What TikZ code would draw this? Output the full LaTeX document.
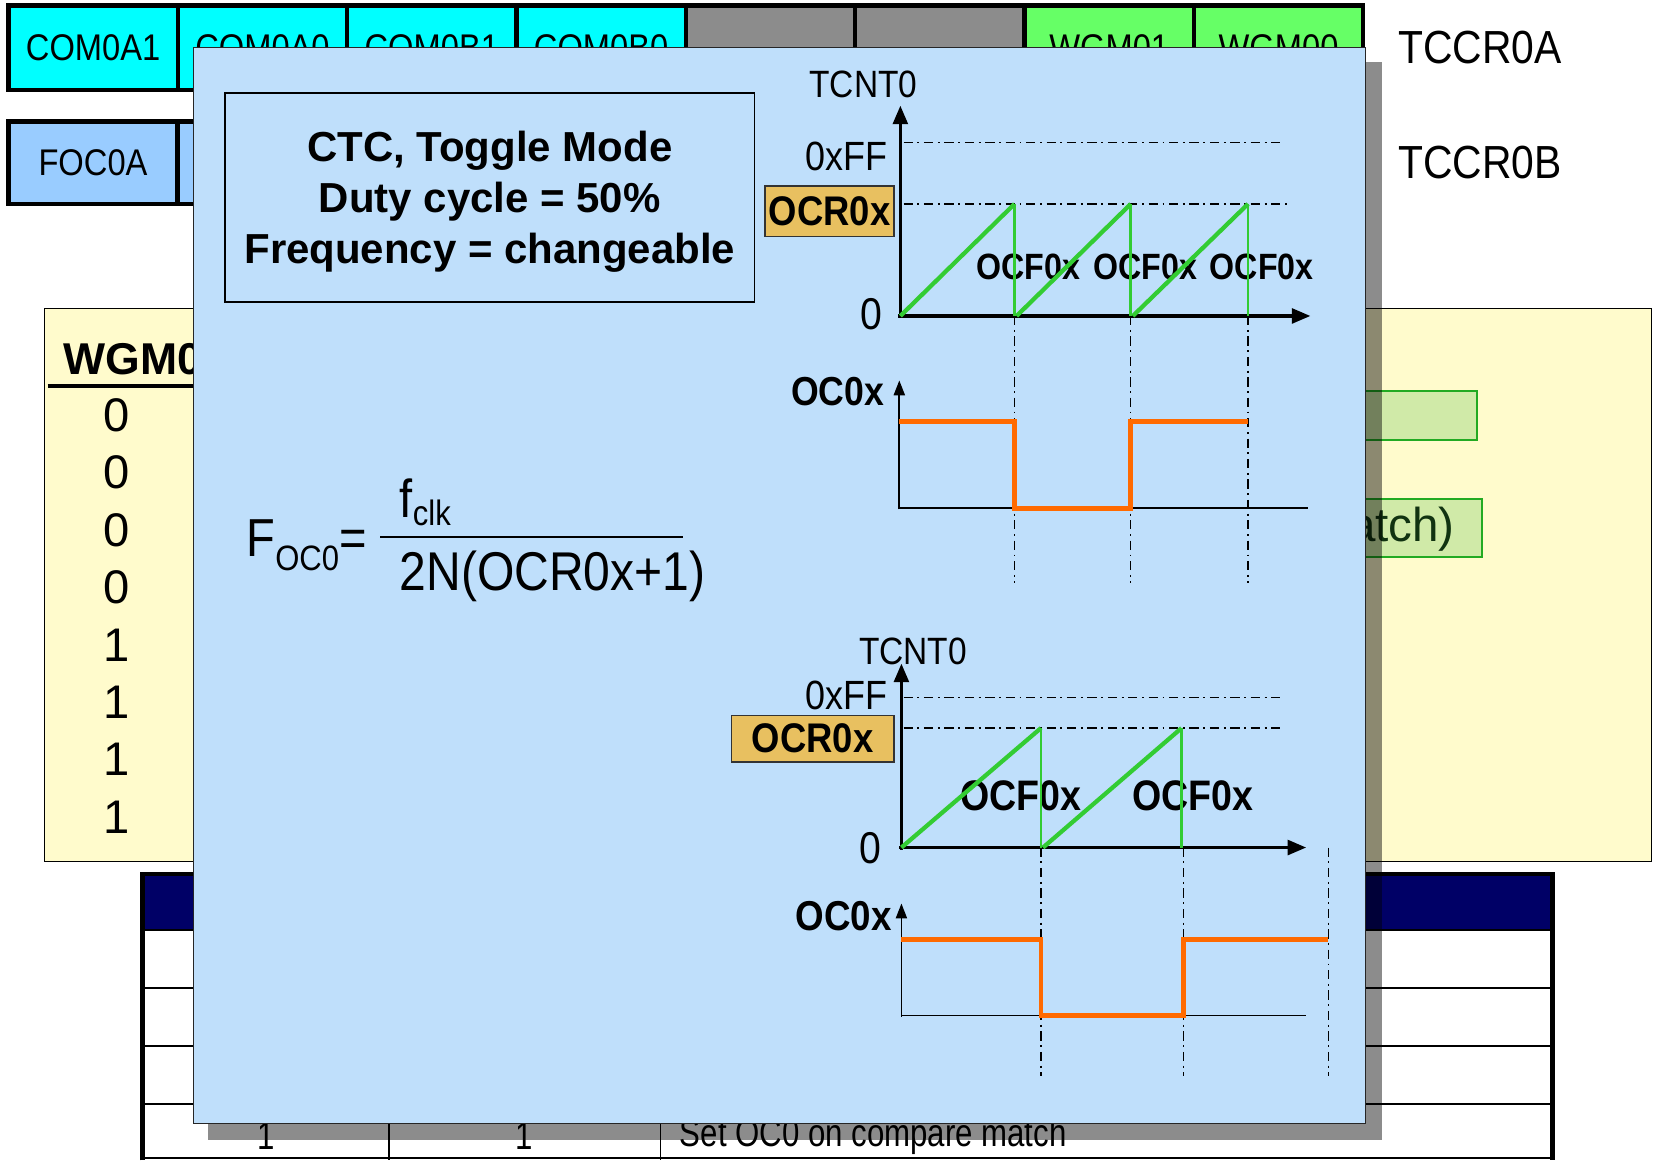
\documentclass[tikz,border=0pt]{standalone}
\usepackage{fontspec}
\setmainfont{Liberation Sans}
\newfontfamily\narrowfont[FakeStretch=0.88]{Liberation Sans}
\newfontfamily\tablefont[FakeStretch=0.8]{Liberation Sans}
\usetikzlibrary{arrows.meta, positioning}
\definecolor{RegCyan}{HTML}{00FFFF}
\definecolor{RegGray}{HTML}{8C8C8C}
\definecolor{RegGreen}{HTML}{66FF66}
\definecolor{RegBlue}{HTML}{99CCFF}
\definecolor{PanelBlue}{HTML}{BFDFFB}
\definecolor{NoteYellow}{HTML}{FFFBCC}
\definecolor{MarkGreen}{HTML}{D0EAA8}
\definecolor{MarkEdge}{HTML}{22AA22}
\definecolor{MarkText}{HTML}{113311}
\definecolor{OcrGold}{HTML}{E8C060}
\definecolor{RampGreen}{HTML}{33CC33}
\definecolor{WaveOrange}{HTML}{FF6A00}
\definecolor{HeadNavy}{HTML}{000066}
\newcommand{\fsz}[1]{\fontsize{#1}{#1}\selectfont}

\begin{document}
\begin{tikzpicture}[
    x=0.02cm, y=-0.02cm,
    regcell/.style = {draw=black, line width=2.4pt, outer sep=0pt, inner sep=0pt, minimum width=3.205cm, minimum height=1.6cm, font=\narrowfont\fsz{20}},
    reglabel/.style = {anchor=west, inner sep=0pt, font=\narrowfont\fsz{25}},
    ocrbox/.style = {draw=black!80, line width=0.8pt, fill=OcrGold, inner sep=0pt, font=\narrowfont\bfseries\fsz{22.3}},
    axislbl/.style = {inner sep=0pt, font=\narrowfont\fsz{20.5}},
    flaglbl/.style = {inner sep=0pt, font=\narrowfont\bfseries\fsz{19.7}},
    graphaxis/.style = {line width=1.7pt, -{Triangle[length=10pt,width=8pt]}},
    thinaxis/.style = {line width=0.9pt, -{Triangle[length=8pt,width=6pt]}},
    guide/.style = {line width=0.8pt, dash pattern=on 5pt off 2.5pt on 1pt off 2.5pt},
    ramp/.style = {RampGreen, line width=2.3pt},
    rampdrop/.style = {RampGreen, line width=1.4pt},
    wave/.style = {WaveOrange, line width=2.6pt}
  ]
  \useasboundingbox (0,0) rectangle (1568,1098);

  % register rows
  \foreach \lbl/\col [count=\i] in {COM0A1/RegCyan, COM0A0/RegCyan, COM0B1/RegCyan, COM0B0/RegCyan, /RegGray, /RegGray, WGM01/RegGreen, WGM00/RegGreen}
    \node [regcell, fill=\col] (ra\i) at ({8+160.25*(\i-0.5)},45) {\lbl};
  \node [regcell, fill=RegBlue, minimum height=1.56cm] (rb1) at (88,154) {FOC0A};
  \foreach \i in {2,...,8}
    \node [regcell, fill=RegBlue, minimum height=1.56cm] (rb\i) at ({8+160.25*(\i-0.5)},154) {};
  \node [reglabel] (tccra) at (1323,45) {TCCR0A};
  \node [reglabel] (tccrb) at (1323,154) {TCCR0B};

  % mode table
  \draw [fill=NoteYellow, line width=0.8pt] (42,292) rectangle (1563,815);
  \node [anchor=west, inner sep=0pt, font=\bfseries\fsz{24}] (wgmhead) at (60,340) {WGM0};
  \draw [line width=2.2pt] (45,365) -- (400,365);
  \foreach \d [count=\k] in {0,0,0,0,1,1,1,1}
    \node [inner sep=0pt, font=\fsz{25.4}] (bit\k) at (110,{393+54.3*(\k-1)}) {\d};
  \draw [MarkEdge, fill=MarkGreen, line width=1pt] (1200,370) rectangle (1398,416);
  \draw [MarkEdge, fill=MarkGreen, line width=1pt] (1200,472) rectangle (1402,527);
  \node [anchor=east, inner sep=0pt, text=MarkText, font=\fsz{25.6}] (match) at (1377,501) {match)};

  % output table
  \fill [HeadNavy] (135,828) rectangle (1469,880);
  \foreach \y in {880,935,990,1045}
    \draw [line width=1pt] (135,\y) -- (1469,\y);
  \draw [line width=1pt] (368,880) -- (368,1098);
  \draw [line width=1pt] (625,880) -- (625,1098);
  \draw [line width=0.8pt] (135,1096) -- (1469,1096);
  \draw [line width=2.6pt] (135,1098) -- (135,827) -- (1469,827) -- (1469,1098);
  \node [inner sep=0pt, font=\tablefont\fsz{21}] (c1) at (252,1075) {1};
  \node [inner sep=0pt, font=\tablefont\fsz{21}] (c2) at (496,1075) {1};
  \node [anchor=west, inner sep=0pt, font=\tablefont\fsz{21}] (c3) at (643,1075) {Set OC0 on compare match};

  % overlay panel
  \fill [black, opacity=0.45] (197,59) rectangle (1308,1079);
  \draw [fill=PanelBlue, draw=black!85, line width=0.9pt] (183,45) rectangle (1292,1063);

  \node [draw, line width=0.8pt, minimum width=10.02cm, minimum height=3.96cm] (modebox) at (463.5,187) {};
  \node [align=center, inner sep=0pt, font=\bfseries\fontsize{22.6}{27.6}\selectfont] (mode) at (463.5,191)
        {CTC, Toggle Mode\\Duty cycle = 50\%\\Frequency = changeable};

  % formula
  \node [anchor=base west, inner sep=0pt, font=\narrowfont\fsz{28.8}] (foc) at (233,527) {F\raisebox{-7.5pt}{\fsz{19}OC0}=};
  \node [anchor=base west, inner sep=0pt, font=\narrowfont\fsz{28.8}] (fclk) at (378,490) {f\raisebox{-4pt}{\fsz{19}clk}};
  \node [anchor=base west, inner sep=0pt, font=\narrowfont\fsz{29.4}] (denom) at (378,559) {2N(OCR0x+1)};
  \draw [line width=0.9pt] (360,508) -- (646,508);

  % upper timing graph
  \draw [graphaxis] (852,301) -- (852,100);
  \draw [graphaxis] (850,299) -- (1240,299);
  \node [axislbl] (cnt1) at (817,80) {TCNT0};
  \node [axislbl, anchor=east, font=\narrowfont\fsz{22}] (top1) at (840,148) {0xFF};
  \node [ocrbox, minimum width=2.44cm, minimum height=0.96cm] (ocr1) at (785,200) {OCR0x};
  \node [axislbl, anchor=east, font=\narrowfont\fsz{24}] (zero1) at (835,297) {0};
  \draw [guide] (855,135) -- (1215,135);
  \draw [guide] (855,193) -- (1218,193);
  \foreach \x in {960,1070,1181}
    \draw [guide] (\x,299) -- (\x,552);
  \foreach \x [count=\k] in {973,1084,1194}
    \node [flaglbl] (ocfa\k) at (\x,253) {OCF0x};
  \draw [ramp] (852,299) -- (960,193);
  \draw [ramp] (962,299) -- (1070,193);
  \draw [ramp] (1072,299) -- (1181,193);
  \foreach \x in {960,1070,1181}
    \draw [rampdrop] (\x,193) -- (\x,299);
  \draw [thinaxis] (851,482) -- (851,360);
  \node [flaglbl, anchor=east, font=\narrowfont\bfseries\fsz{21.8}] (oca) at (837,371) {OC0x};
  \draw [line width=0.9pt] (851,481) -- (1238,481);
  \draw [wave] (851,399) -- (960,399) -- (960,481) -- (1070,481) -- (1070,399) -- (1181,399);

  % lower timing graph
  \draw [graphaxis] (853,804) -- (853,628);
  \draw [graphaxis] (851,802) -- (1236,802);
  \node [axislbl] (cnt2) at (864,616) {TCNT0};
  \node [axislbl, anchor=east, font=\narrowfont\fsz{22}] (top2) at (840,658) {0xFF};
  \node [ocrbox, minimum width=3.08cm, minimum height=0.88cm] (ocr2) at (769,699) {OCR0x};
  \node [axislbl, anchor=east, font=\narrowfont\fsz{24}] (zero2) at (834,803) {0};
  \draw [guide] (855,660) -- (1213,660);
  \draw [guide] (855,689) -- (1215,689);
  \foreach \x in {985,1120,1257}
    \draw [guide] (\x,802) -- (\x,1018);
  \node [flaglbl, font=\narrowfont\bfseries\fsz{23}] (ocfb1) at (966,753) {OCF0x};
  \node [flaglbl, font=\narrowfont\bfseries\fsz{23}] (ocfb2) at (1129,753) {OCF0x};
  \draw [ramp] (853,802) -- (985,689);
  \draw [ramp] (987,802) -- (1118,689);
  \foreach \x in {985,1118}
    \draw [rampdrop] (\x,689) -- (\x,802);
  \draw [thinaxis] (853,962) -- (853,855);
  \node [flaglbl, anchor=east, font=\narrowfont\bfseries\fsz{22.5}] (ocb) at (844,867) {OC0x};
  \draw [line width=0.9pt] (853,961) -- (1236,961);
  \draw [wave] (853,889) -- (985,889) -- (985,961) -- (1120,961) -- (1120,889) -- (1257,889);
\end{tikzpicture}
\end{document}
